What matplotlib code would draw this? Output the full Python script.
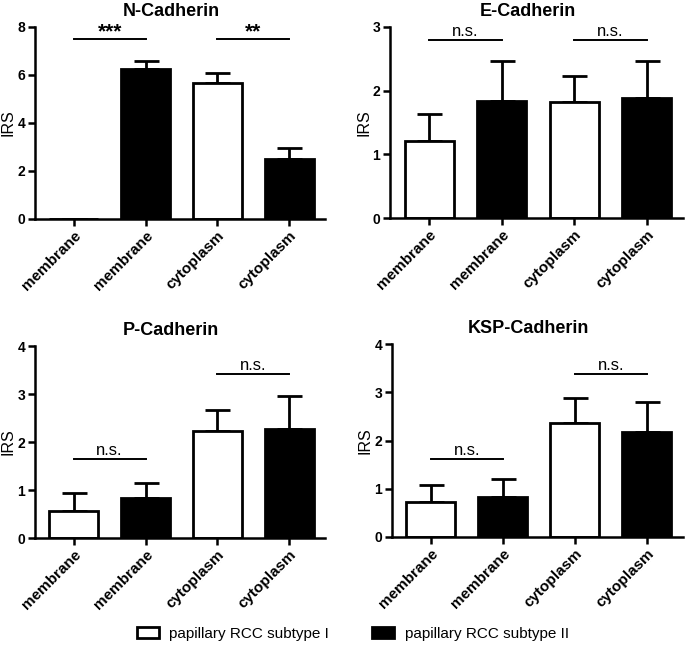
import matplotlib
matplotlib.use('Agg')
import matplotlib.pyplot as plt
from matplotlib.patches import Patch

plt.rcParams['font.family'] = ['Liberation Sans', 'DejaVu Sans']

# data
categories = ['membrane', 'membrane', 'cytoplasm', 'cytoplasm']
groups = ['I', 'II', 'I', 'II']

titles = ['N-Cadherin', 'E-Cadherin', 'P-Cadherin', 'KSP-Cadherin']
n_cad = [0.0, 6.25, 5.65, 2.49]
n_err = [0.0, 0.33, 0.42, 0.48]
e_cad = [1.21, 1.83, 1.82, 1.88]
e_err = [0.43, 0.63, 0.41, 0.58]
p_cad = [0.56, 0.84, 2.23, 2.28]
p_err = [0.37, 0.31, 0.44, 0.68]
ksp_cad = [0.73, 0.82, 2.37, 2.17]
ksp_err = [0.34, 0.39, 0.51, 0.63]

ymax = [8, 3, 4, 4]
yticks = [[0, 2, 4, 6, 8], [0, 1, 2, 3], [0, 1, 2, 3, 4], [0, 1, 2, 3, 4]]
# significance brackets: (left bar, right bar, height, label)
sig = [
    [(0, 1, 7.5, '***'), (2, 3, 7.5, '**')],
    [(0, 1, 2.8, 'n.s.'), (2, 3, 2.8, 'n.s.')],
    [(0, 1, 1.64, 'n.s.'), (2, 3, 3.41, 'n.s.')],
    [(0, 1, 1.62, 'n.s.'), (2, 3, 3.38, 'n.s.')],
]

values = [n_cad, e_cad, p_cad, ksp_cad]
errors = [n_err, e_err, p_err, ksp_err]

W, H = 685, 646
fig = plt.figure(figsize=(W / 100, H / 100), dpi=100)

# axes boxes in pixels: left, right, top, bottom
boxes = [(35, 325, 27, 219), (390, 683, 27, 218),
         (35, 325, 346, 538), (392, 683, 344, 537)]

for i in range(4):
    l, r, t, b = boxes[i]
    ax = fig.add_axes([l / W, 1 - b / H, (r - l) / W, (b - t) / H])
    x = list(range(len(categories)))
    colors = ['white' if g == 'I' else 'black' for g in groups]
    ax.errorbar(x, values[i], yerr=[[0] * 4, errors[i]], fmt='none',
                ecolor='black', elinewidth=2, capsize=9, capthick=2, zorder=1)
    ax.bar(x, values[i], width=0.68, color=colors, edgecolor='black',
           linewidth=2, zorder=2)
    for a, c, h, lab in sig[i]:
        ax.plot([a, c], [h, h], color='black', lw=1.4, clip_on=False)
        if lab == 'n.s.':
            ax.annotate(lab, ((a + c) / 2, h), xytext=(0, 3),
                        textcoords='offset points', ha='center', va='baseline',
                        fontsize=12)
        else:
            ax.annotate(lab, ((a + c) / 2, h), xytext=(0, 1.5),
                        textcoords='offset points', ha='center', va='baseline',
                        fontsize=15, fontweight='bold')
    ax.set_xlim(-0.54, 3.5)
    ax.set_ylim(0, ymax[i])
    ax.set_yticks(yticks[i])
    ax.set_xticks(x)
    ax.set_xticklabels(categories, rotation=45, ha='right',
                       rotation_mode='anchor', fontsize=11, fontweight='bold')
    for lab in ax.get_yticklabels():
        lab.set_fontweight('bold')
        lab.set_fontsize(10)
    ax.spines['top'].set_visible(False)
    ax.spines['right'].set_visible(False)
    ax.spines['left'].set_linewidth(1.8)
    ax.spines['bottom'].set_linewidth(1.8)
    ax.tick_params(width=1.8, length=5, pad=2)
    ax.set_ylabel('IRS', fontsize=11.5)
    ax.yaxis.set_label_coords(-19 / (r - l), 0.5)
    ax.set_title(titles[i], fontsize=13, fontweight='bold', x=0.47, pad=8)

handles = [Patch(facecolor='white', edgecolor='black', linewidth=2),
           Patch(facecolor='black', edgecolor='black', linewidth=2)]
fig.legend(handles, ['papillary RCC subtype I', 'papillary RCC subtype II'],
           loc='center', bbox_to_anchor=(0.515, 0.019), ncol=2, frameon=False,
           fontsize=11, handlelength=1.45, handleheight=0.8,
           handletextpad=0.7, columnspacing=2.8)

fig.savefig('out.png', dpi=100)
